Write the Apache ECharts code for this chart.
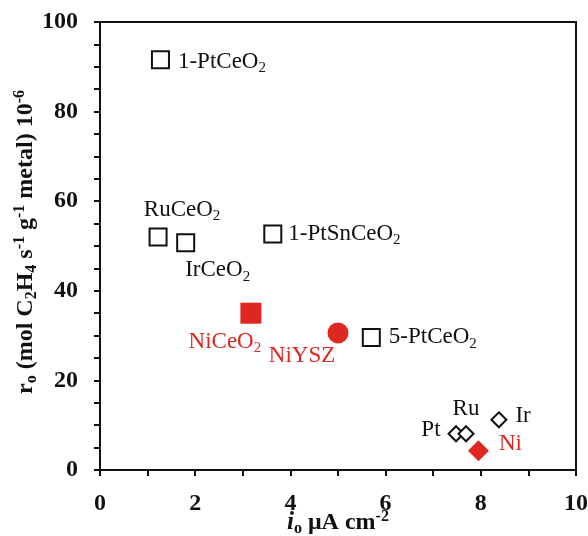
<!DOCTYPE html>
<html>
<head>
	<meta charset="utf-8">
	<title>r0 vs i0</title>
	<script type="text/javascript" src="https://cdn.jsdelivr.net/npm/echarts@6/dist/echarts.min.js"></script>
	<style>body{margin:0;background:#fff}</style>
</head>

<body>
	<div style="height: 536px; width: 588px" id="main"></div>

	<script type="text/javascript">
		// data
		var xTicks = [0, 2, 4, 6, 8, 10]
		var yTicks = [0, 20, 40, 60, 80, 100]

		var ceNames = ['1-PtCeO2', 'RuCeO2', 'IrCeO2', '1-PtSnCeO2', '5-PtCeO2']
		var ceX = [1.27, 1.22, 1.8, 3.63, 5.7]
		var ceY = [91.6, 52, 50.7, 52.7, 29.6]

		var metalNames = ['Pt', 'Ru', 'Ir']
		var metalX = [7.48, 7.69, 8.38]
		var metalY = [8.1, 8.1, 11.2]

		var niNames = ['NiCeO2', 'NiYSZ', 'Ni']
		var niX = [3.17, 5.0, 7.95]
		var niY = [35, 30.6, 4.3]

		var RED = '#dd2720'
		var INK = '#111'
		var SERIF = '"Liberation Serif", "DejaVu Serif", serif'

		// where each label sits relative to its mark
		var labelPos = {
			'1-PtCeO2':   {position: 'right', distance: 8, offset: [0, 2]},
			'RuCeO2':     {position: 'top', distance: 4, offset: [24, 0]},
			'IrCeO2':     {position: 'bottom', distance: 4, offset: [32, 0]},
			'1-PtSnCeO2': {position: 'right', distance: 6},
			'5-PtCeO2':   {position: 'right', distance: 8},
			'Pt':         {position: 'left', distance: 7, offset: [0, -4]},
			'Ru':         {position: 'top', distance: 2, offset: [0, 0]},
			'Ir':         {position: 'right', distance: 8, offset: [0, -4]},
			'NiCeO2':     {position: 'bottom', distance: 4, offset: [-26, 0]},
			'NiYSZ':      {position: 'bottom', distance: 0, offset: [-36, -1]},
			'Ni':         {position: 'right', distance: 10, offset: [0, -7]}
		}

		function fmt(name){
			return name.replace(/O2$/, 'O{s|2}')
		}

		function build(names, xs, ys, color){
			var lst = []
			for (var i = 0; i < names.length; i++){
				var p = labelPos[names[i]]
				lst.push({
					name: names[i],
					value: [xs[i], ys[i]],
					label: {
						show: true,
						position: p.position,
						distance: p.distance,
						offset: p.offset || [0, 0],
						formatter: fmt(names[i]),
						color: color,
						fontSize: 23,
						lineHeight: 28,
						fontFamily: SERIF,
						rich: {
							s: {fontSize: 15, fontFamily: SERIF, verticalAlign: 'bottom', lineHeight: 15, color: color}
						}
					}
				})
			}
			return lst
		}

		var niData = build(niNames, niX, niY, RED)
		var niSymbols = ['rect', 'circle', 'diamond']
		var niSizes = [21, 21, 21]
		for (var k = 0; k < niData.length; k++){
			niData[k].symbol = niSymbols[k]
			niData[k].symbolSize = niSizes[k]
		}

		var tickText = {color: INK, fontSize: 24, fontWeight: 'bold', fontFamily: SERIF, margin: 22}
		var nameRich = {
			i: {fontSize: 25, fontWeight: 'bold', fontStyle: 'italic', fontFamily: SERIF, color: INK},
			s: {fontSize: 16, fontWeight: 'bold', fontFamily: SERIF, verticalAlign: 'bottom', lineHeight: 16, color: INK},
			p: {fontSize: 16, fontWeight: 'bold', fontFamily: SERIF, verticalAlign: 'top', lineHeight: 16, color: INK}
		}

		var chart = echarts.init(document.getElementById('main'))
		var option = {
			animation: false,
			backgroundColor: '#fff',
			grid: {
				left: 100, right: 12, top: 22, bottom: 66,
				containLabel: false, outerBoundsMode: 'none',
				show: true, borderColor: INK, borderWidth: 2,
				backgroundColor: 'transparent'
			},
			xAxis: {
				type: 'value', min: xTicks[0], max: xTicks[xTicks.length - 1], interval: 2,
				splitLine: {show: false},
				axisLine: {onZero: false, lineStyle: {color: INK, width: 2}},
				axisTick: {inside: false, length: 6, lineStyle: {color: INK, width: 2}},
				minorTick: {show: true, splitNumber: 2, length: 6, lineStyle: {color: INK, width: 2}},
				axisLabel: tickText,
				name: '{i|i}{s|o} μA cm{p|-2}',
				nameLocation: 'middle', nameGap: 39, nameMoveOverlap: false,
				nameTextStyle: {
					color: INK, fontSize: 24, fontWeight: 'bold', fontFamily: SERIF, lineHeight: 28,
					rich: nameRich
				}
			},
			yAxis: {
				type: 'value', min: yTicks[0], max: yTicks[yTicks.length - 1], interval: 20,
				splitLine: {show: false},
				axisLine: {onZero: false, lineStyle: {color: INK, width: 2}},
				axisTick: {inside: false, length: 6, lineStyle: {color: INK, width: 2}},
				minorTick: {show: true, splitNumber: 4, length: 6, lineStyle: {color: INK, width: 2}},
				axisLabel: tickText,
				name: 'r{s|o} (mol C{s|2}H{s|4} s{p|-1} g{p|-1} metal) 10{p|-6}',
				nameLocation: 'middle', nameGap: 60, nameRotate: 90, nameMoveOverlap: false,
				nameTextStyle: {
					color: INK, fontSize: 24, fontWeight: 'bold', fontFamily: SERIF, lineHeight: 28,
					padding: [0, 0, 0, 8],
					rich: nameRich
				}
			},
			series: [
				{
					name: 'CeO2',
					type: 'scatter',
					symbol: 'rect',
					symbolSize: 17,
					itemStyle: {color: '#fff', borderColor: INK, borderWidth: 2, opacity: 1},
					data: build(ceNames, ceX, ceY, INK)
				},
				{
					name: 'metal',
					type: 'scatter',
					symbol: 'diamond',
					symbolSize: 15,
					itemStyle: {color: '#fff', borderColor: INK, borderWidth: 2, opacity: 1},
					data: build(metalNames, metalX, metalY, INK)
				},
				{
					name: 'Ni',
					type: 'scatter',
					itemStyle: {color: RED, opacity: 1},
					data: niData
				}
			]
		}
		chart.setOption(option)
	</script>
</body>
</html>
